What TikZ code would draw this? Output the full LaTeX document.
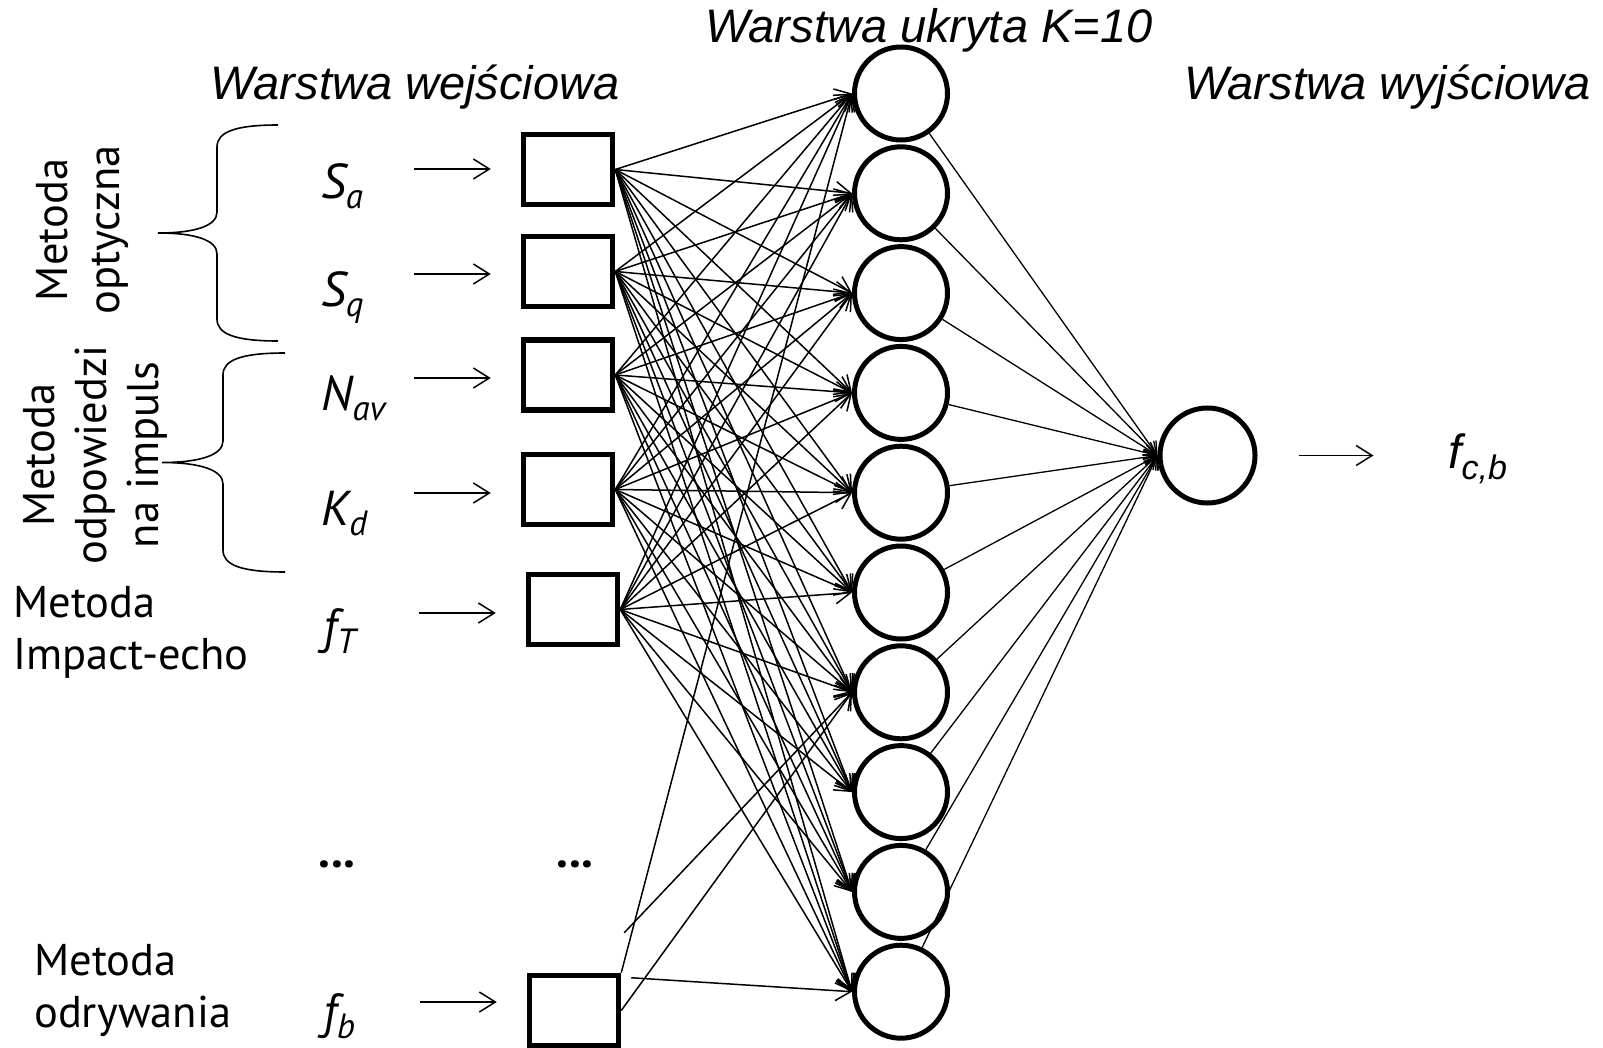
\documentclass[tikz,border=0pt]{standalone}
\usepackage{fontspec}
\setmainfont{PT Sans}
\newfontfamily\arialf{Liberation Sans}
\usetikzlibrary{arrows.meta}
\newcommand{\sbs}[1]{\raisebox{-10pt}{\fontsize{35}{35}\selectfont #1}}
\tikzset{
  inbox/.style={draw, line width=5.5pt, minimum width=89pt, minimum height=70pt, inner sep=0pt},
  hidn/.style={draw, circle, line width=5pt, minimum size=93pt, inner sep=0pt},
  outn/.style={draw, circle, line width=5pt, minimum size=95pt, inner sep=0pt},
  ihconn/.style={line width=1.5pt, -{Straight Barb[length=15pt,width=20pt,line width=1.5pt]}},
  hoconn/.style={line width=1.3pt, -{Straight Barb[length=12pt,width=15pt,line width=1.3pt]}},
  labarrow/.style={line width=1.5pt, -{Straight Barb[length=16pt,width=20pt,line width=1.5pt]}},
  varlab/.style={anchor=base west, inner sep=0pt, font=\fontsize{49}{49}\selectfont\itshape},
  titlelab/.style={anchor=base west, inner sep=0pt, font=\arialf\fontsize{47}{47}\selectfont\itshape},
  methlab/.style={inner sep=0pt, font=\fontsize{44.5}{52}\selectfont},
  bracepath/.style={line width=1.6pt},
}
\begin{document}
\begin{tikzpicture}[x=1pt,y=-1pt]
\fill[white] (0,0) rectangle (1603,1048);
\useasboundingbox (0,0) rectangle (1603,1048);

% titles
\node[titlelab] (tin) at (210,100) {Warstwa wejściowa};
\node[titlelab] (thid) at (705,43) {Warstwa ukryta K=10};
\node[titlelab] (tout) at (1184,100) {Warstwa wyjściowa};

% method labels
\node[methlab, align=center, rotate=90] (mopt) at (82,230) {Metoda\\optyczna};
\node[methlab, align=center, rotate=90] (mimp) at (95,455) {Metoda\\odpowiedzi\\na impuls};
\node[methlab, align=left, anchor=west] (mie) at (13,632) {Metoda\\Impact-echo};
\node[methlab, align=left, anchor=west] (modr) at (34,990) {Metoda\\odrywania};

% braces
\draw[bracepath] (278,125) .. controls (235,125) and (217,132) .. (217,147) -- (217,212)
  .. controls (217,226) and (195,233) .. (158,233)
  .. controls (195,233) and (217,240) .. (217,254) -- (217,319)
  .. controls (217,334) and (235,341) .. (278,341);
\draw[bracepath] (285,353) .. controls (241,353) and (223,360) .. (223,375) -- (223,441)
  .. controls (223,455) and (200,462.5) .. (162,462.5)
  .. controls (200,462.5) and (223,470) .. (223,484) -- (223,550)
  .. controls (223,565) and (241,572) .. (285,572);

% variable labels
\node[varlab] (lSa) at (321,199) {S\sbs{a}};
\node[varlab] (lSq) at (321,307) {S\sbs{q}};
\node[varlab] (lNav) at (321,410) {N\sbs{av}};
\node[varlab] (lKd) at (321,525) {K\sbs{d}};
\node[varlab] (lfT) at (323,643) {f\sbs{T}};
\node[varlab] (lfb) at (323,1028) {f\sbs{b}};

% input boxes
\node[inbox] (b1) at (568,169.5) {};
\node[inbox] (b2) at (568,271.5) {};
\node[inbox] (b3) at (568,375) {};
\node[inbox] (b4) at (568,489.5) {};
\node[inbox] (b5) at (573,609.5) {};
\node[inbox] (b6) at (574,1010.5) {};

% dots
\node[inner sep=0pt, font=\fontsize{48}{48}\selectfont\bfseries] (dots1) at (337,864) {...};
\node[inner sep=0pt, font=\fontsize{48}{48}\selectfont\bfseries] (dots2) at (575,864) {...};

% input arrows
\draw[labarrow] ([xshift=-107pt,yshift=0.5pt]b1.west) -- ([xshift=-30pt,yshift=0.5pt]b1.west);
\draw[labarrow] ([xshift=-107pt,yshift=-2.5pt]b2.west) -- ([xshift=-30pt,yshift=-2.5pt]b2.west);
\draw[labarrow] ([xshift=-107pt,yshift=-3pt]b3.west) -- ([xshift=-30pt,yshift=-3pt]b3.west);
\draw[labarrow] ([xshift=-107pt,yshift=-3.5pt]b4.west) -- ([xshift=-30pt,yshift=-3.5pt]b4.west);
\draw[labarrow] ([xshift=-107pt,yshift=-3.5pt]b5.west) -- ([xshift=-30pt,yshift=-3.5pt]b5.west);
\draw[labarrow] ([xshift=-107pt,yshift=8.5pt]b6.west) -- ([xshift=-30pt,yshift=8.5pt]b6.west);

% hidden layer
\foreach \j in {1,...,10} {
  \node[hidn] (h\j) at (901,{93.5+99.8*(\j-1)}) {};
}

% output
\node[outn] (out) at (1207.5,455.5) {};
\draw[labarrow] ([xshift=41pt]out.east) -- ([xshift=116pt]out.east);
\node[anchor=base west, inner sep=0pt, font=\arialf\fontsize{48}{48}\selectfont\itshape] (fcb) at (1448,468)
  {f\raisebox{-11pt}{\fontsize{34}{34}\selectfont c,b}};

% input -> hidden
\foreach \i in {1,...,5} {
  \foreach \j in {1,...,10} {
    \draw[ihconn] (b\i.east) -- (h\j.west);
  }
}
\coordinate (b6a) at ([xshift=3pt,yshift=40pt]b6.north east);
\coordinate (b6b) at ([xshift=10pt,yshift=-5pt]b6.north east);
\draw[ihconn] (b6.north east) -- (h1.west);
\draw[ihconn] (b6a) -- (h7.west);
\draw[ihconn] (b6.east) -- (h7.west);
\draw[ihconn] (b6b) -- (h10.west);

% hidden -> output
\foreach \j in {1,...,10} {
  \draw[hoconn] (h\j) -- (out.west);
}
\end{tikzpicture}
\end{document}
